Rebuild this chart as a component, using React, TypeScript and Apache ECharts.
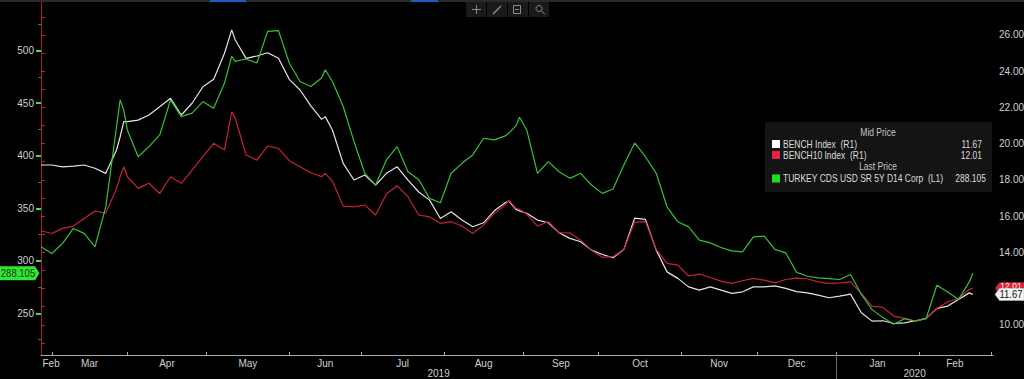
import React, { useEffect, useRef } from "react";
import * as echarts from "echarts";

// ---- Data (x = trading-day index, 0 = Tue 2019-02-26; weekends skipped as on the terminal) ----
const tradingDays = [
  0, 3, 6, 9, 12, 15, 18, 21, 22, 23, 24, 27, 30, 33, 36, 39, 42, 45, 48, 51,
  53, 54, 57, 60, 63, 66, 69, 72, 75, 78, 79, 81, 84, 87, 90, 93, 96, 99, 102, 105,
  108, 111, 114, 117, 120, 123, 126, 129, 130, 132, 133, 135, 138, 141, 144, 147, 150, 153, 156, 159,
  162, 165, 168, 171, 174, 177, 180, 183, 186, 189, 192, 195, 198, 201, 204, 207, 210, 213, 216, 219,
  222, 225, 228, 231, 234, 237, 240, 243, 246, 249, 252, 255, 258, 259,
];

const benchIndex = [
  18.82, 18.82, 18.72, 18.76, 18.82, 18.64, 18.36, 19.65, 20.38, 21.21, 21.21, 21.3, 21.58, 22.04, 22.5, 21.58, 22.23, 23.14, 23.55, 24.99,
  26.28, 25.72, 24.71, 24.84, 25.02, 24.71, 23.55, 22.96, 22.08, 21.34, 21.49, 20.75, 18.91, 17.99, 18.27, 17.71, 18.36, 18.72, 17.99, 17.33,
  16.88, 15.87, 16.24, 15.78, 15.41, 15.63, 16.29, 16.73, 16.83, 16.37, 16.29, 16.15, 15.78, 15.63, 15.08, 14.77, 14.58, 14.12, 13.88, 13.7,
  14.16, 15.89, 15.82, 14.12, 12.92, 12.56, 12.09, 11.91, 12.09, 11.91, 11.73, 11.82, 12.09, 12.09, 12.15, 12.01, 11.83, 11.76, 11.64, 11.49,
  11.58, 11.69, 10.66, 10.2, 10.22, 10.07, 10.1, 10.22, 10.35, 10.9, 11.03, 11.4, 11.76, 11.67,
];

const bench10Index = [
  15.19, 15.04, 15.32, 15.45, 15.87, 16.28, 16.15, 17.53, 18.17, 18.72, 18.17, 17.53, 17.81, 17.25, 18.17, 17.81, 18.54, 19.28, 20.02, 19.65,
  21.76, 21.41, 19.37, 19.09, 19.87, 19.74, 19.06, 18.72, 18.39, 18.17, 18.36, 17.93, 16.55, 16.51, 16.61, 16.06, 17.22, 17.67, 17.07, 16.06,
  15.96, 15.6, 15.69, 15.45, 15.04, 15.5, 16.15, 16.61, 16.88, 16.43, 16.37, 16.11, 15.45, 15.69, 15.08, 15.08, 14.67, 14.12, 13.72, 13.76,
  14.16, 15.67, 15.69, 14.16, 13.39, 13.29, 12.69, 12.8, 12.61, 12.41, 12.28, 12.43, 12.56, 12.46, 12.31, 12.5, 12.57, 12.54, 12.37, 12.28,
  12.31, 12.37, 11.73, 11.03, 10.96, 10.48, 10.35, 10.2, 10.35, 10.9, 11.27, 11.45, 11.95, 12.01,
];

const turkeyCds = [
  313.3, 307.0, 316.5, 330.8, 326.1, 313.3, 351.4, 427.8, 453.2, 443.7, 424.6, 399.1, 408.7, 419.8, 453.2, 437.3, 440.6, 451.6, 445.3, 469.2,
  494.6, 489.8, 492.1, 488.3, 518.4, 519.1, 488.3, 470.7, 465.9, 474.0, 481.9, 470.7, 446.9, 413.5, 383.3, 372.1, 396.0, 408.7, 384.8, 377.2,
  359.4, 355.2, 383.3, 392.8, 400.8, 416.7, 415.1, 418.9, 421.5, 428.4, 436.7, 424.6, 383.3, 394.4, 384.8, 378.5, 383.3, 372.1, 364.2, 368.3,
  391.2, 412.2, 399.1, 383.3, 351.4, 337.1, 332.3, 319.7, 317.1, 312.7, 309.4, 308.5, 322.8, 323.5, 310.8, 307.5, 289.1, 285.3, 283.7, 283.1,
  282.2, 286.9, 268.1, 253.5, 245.9, 239.5, 244.9, 242.4, 244.9, 276.7, 270.3, 263.1, 279.9, 288.105,
];

const seriesNames = ["BENCH Index  (R1)", "BENCH10 Index  (R1)", "TURKEY CDS USD SR 5Y D14 Corp  (L1)"];
const lastValueLabels = ["11.67", "12.01", "288.105"];
const legendHeaders = ["Mid Price", "Last Price"];
const leftTickValues = [250, 300, 350, 400, 450, 500];
const leftMinorTickValues = [225, 275, 325, 375, 425, 475, 525];
const rightTickValues = [10, 14, 16, 18, 20, 22, 24, 26]; // 12.00 sits under the last-value tags
const rightMinorTickValues = [9, 10, 11, 12, 13, 14, 15, 16, 17, 18, 19, 20, 21, 22, 23, 24, 25, 26, 27];
const monthNames = ["Jan", "Feb", "Mar", "Apr", "May", "Jun", "Jul", "Aug", "Sep", "Oct", "Nov", "Dec"];

// ---- Axis ranges ----
const X_MAX = 264.6;
const L_MIN = 210.3;
const L_MAX = 548.3;
const R_MIN = 8.33;
const R_MAX = 27.93;

const FONT = "'Liberation Sans', Arial, sans-serif";
const COL_WHITE = "#e4e4e4";
const COL_RED = "#c8213a";
const COL_GREEN = "#36c236";
const LABEL_COL = "#cfcfcf";

function buildCalendar(count: number) {
  const d = new Date(Date.UTC(2019, 1, 26));
  const days: Date[] = [];
  while (days.length < count) {
    const wd = d.getUTCDay();
    if (wd !== 0 && wd !== 6) days.push(new Date(d.getTime()));
    d.setUTCDate(d.getUTCDate() + 1);
  }
  return days;
}

export default function App() {
  const ref = useRef<HTMLDivElement>(null);

  useEffect(() => {
    if (!ref.current) return;
    const chart = echarts.init(ref.current, null, { renderer: "svg" });

    const cal = buildCalendar(280);
    const monthStarts: number[] = [];
    for (let i = 1; i < cal.length && i <= X_MAX; i++) {
      if (cal[i].getUTCMonth() !== cal[i - 1].getUTCMonth()) monthStarts.push(i);
    }
    const bounds = [0, ...monthStarts];
    const labelPos: number[] = [];
    const labelNames: string[] = [];
    for (let i = 0; i < bounds.length - 1; i++) {
      let mid = (bounds[i] + bounds[i + 1]) / 2;
      if (i === 0) mid = Math.max(mid, 2.8);
      labelPos.push(mid);
      labelNames.push(monthNames[cal[bounds[i]].getUTCMonth()]);
    }
    const jan2020 = monthStarts.find((i) => cal[i].getUTCFullYear() === 2020 && cal[i].getUTCMonth() === 0) as number;
    const yearPos = [jan2020 / 2, (jan2020 + X_MAX) / 2];
    const yearNames = ["2019", "2020"];

    const nearestName = (v: number, pos: number[], names: string[]) => {
      let best = 0;
      for (let i = 1; i < pos.length; i++) if (Math.abs(pos[i] - v) < Math.abs(pos[best] - v)) best = i;
      return names[best];
    };

    const option: any = {
      animation: false,
      backgroundColor: "#000000",
      textStyle: { fontFamily: FONT },
      grid: { left: 41, right: 31, top: 0, bottom: 24, containLabel: false, outerBoundsMode: "none" },
      xAxis: [
        {
          type: "value",
          min: 0,
          max: X_MAX,
          position: "bottom",
          axisLine: { show: true, lineStyle: { color: "#a9a9a9", width: 1 } },
          axisTick: { show: true, inside: true, length: 3, customValues: monthStarts, lineStyle: { color: "#a9a9a9" } },
          axisLabel: {
            customValues: labelPos,
            formatter: (v: number) => nearestName(v, labelPos, labelNames),
            color: LABEL_COL,
            fontSize: 10,
            margin: 3,
            fontFamily: FONT,
          },
          splitLine: { show: false },
        },
        {
          type: "value",
          min: 0,
          max: X_MAX,
          position: "bottom",
          axisLine: { show: false },
          axisTick: { show: true, length: 24, customValues: [jan2020], lineStyle: { color: "#6e6e6e" } },
          axisLabel: {
            customValues: yearPos,
            formatter: (v: number) => nearestName(v, yearPos, yearNames),
            color: LABEL_COL,
            fontSize: 10,
            margin: 13,
            fontFamily: FONT,
          },
          splitLine: { show: false },
        },
      ],
      yAxis: [
        {
          type: "value",
          position: "left",
          min: L_MIN,
          max: L_MAX,
          axisLine: { show: true, lineStyle: { color: "#3dcf3d", width: 1 } },
          axisTick: { show: true, length: 5, customValues: leftTickValues, lineStyle: { color: "#3fe43f", width: 2 } },
          axisLabel: { customValues: leftTickValues, color: LABEL_COL, fontSize: 10, margin: 7, fontFamily: FONT },
          splitLine: { show: false },
        },
        {
          type: "value",
          position: "right",
          min: R_MIN,
          max: R_MAX,
          axisLine: { show: true, lineStyle: { color: "#b0182f", width: 1 } },
          axisTick: { show: true, length: 4, customValues: rightMinorTickValues, lineStyle: { color: "#c81c36" } },
          axisLabel: {
            customValues: rightTickValues,
            formatter: (v: number) => v.toFixed(2),
            color: LABEL_COL,
            fontSize: 10,
            margin: 6,
            fontFamily: FONT,
          },
          splitLine: { show: false },
        },
        {
          type: "value",
          position: "left",
          min: L_MIN,
          max: L_MAX,
          axisLine: { show: false },
          axisTick: { show: true, length: 3, customValues: leftMinorTickValues, lineStyle: { color: "#2e8a2e" } },
          axisLabel: { show: false },
          splitLine: { show: false },
        },
      ],
      series: [
        {
          name: seriesNames[0],
          type: "line",
          xAxisIndex: 0,
          yAxisIndex: 1,
          data: tradingDays.map((d, i) => [d, benchIndex[i]]),
          showSymbol: false,
          symbol: "none",
          lineStyle: { color: COL_WHITE, width: 1.2 },
          itemStyle: { color: COL_WHITE },
          z: 2,
        },
        {
          name: seriesNames[1],
          type: "line",
          xAxisIndex: 0,
          yAxisIndex: 1,
          data: tradingDays.map((d, i) => [d, bench10Index[i]]),
          showSymbol: false,
          symbol: "none",
          lineStyle: { color: COL_RED, width: 1.2 },
          itemStyle: { color: COL_RED },
          z: 3,
        },
        {
          name: seriesNames[2],
          type: "line",
          xAxisIndex: 0,
          yAxisIndex: 0,
          data: tradingDays.map((d, i) => [d, turkeyCds[i]]),
          showSymbol: false,
          symbol: "none",
          lineStyle: { color: COL_GREEN, width: 1.2 },
          itemStyle: { color: COL_GREEN },
          z: 4,
        },
      ],
    };

    chart.setOption(option);

    const lastIdx = tradingDays.length - 1;
    const yG = chart.convertToPixel({ yAxisIndex: 0 } as any, turkeyCds[lastIdx]) as number;
    const yW = chart.convertToPixel({ yAxisIndex: 1 } as any, benchIndex[lastIdx]) as number;
    const yR = chart.convertToPixel({ yAxisIndex: 1 } as any, bench10Index[lastIdx]) as number;

    // narrow text (terminal font is condensed): scale horizontally around its anchor
    const txt = (text: string, x: number, y: number, fill: string, align = "left", size = 10, sx = 0.85) => ({
      type: "text",
      z: 100,
      silent: true,
      x,
      y,
      scaleX: sx,
      style: { text, x: 0, y: 0, fill, align, verticalAlign: "middle", font: `${size}px ${FONT}` },
    });
    const iconStroke = { stroke: "#8a8a8a", lineWidth: 1, fill: "none" };

    const graphics: any[] = [
      // terminal top strip
      { type: "rect", z: 100, silent: true, shape: { x: 0, y: 0, width: 1024, height: 2 }, style: { fill: "#2a2a2a" } },
      { type: "rect", z: 101, silent: true, shape: { x: 210, y: 0, width: 36, height: 2 }, style: { fill: "#1d5cc4" } },
      { type: "rect", z: 101, silent: true, shape: { x: 411, y: 0, width: 27, height: 2 }, style: { fill: "#1d5cc4" } },
      // toolbar
      ...[0, 1, 2, 3].map((i) => ({
        type: "rect",
        z: 100,
        silent: true,
        shape: { x: 466 + 21 * i, y: 2, width: 20, height: 15 },
        style: { fill: "#1a1a1a" },
      })),
      { type: "line", z: 101, silent: true, shape: { x1: 476.5, y1: 5, x2: 476.5, y2: 14 }, style: iconStroke },
      { type: "line", z: 101, silent: true, shape: { x1: 472, y1: 9.5, x2: 481, y2: 9.5 }, style: iconStroke },
      { type: "line", z: 101, silent: true, shape: { x1: 493, y1: 14, x2: 501, y2: 6 }, style: { ...iconStroke, lineWidth: 1.5 } },
      { type: "rect", z: 101, silent: true, shape: { x: 513.5, y: 5.5, width: 7, height: 8 }, style: iconStroke },
      { type: "line", z: 101, silent: true, shape: { x1: 515, y1: 9.5, x2: 519, y2: 9.5 }, style: iconStroke },
      { type: "circle", z: 101, silent: true, shape: { cx: 539, cy: 8.5, r: 3 }, style: iconStroke },
      { type: "line", z: 101, silent: true, shape: { x1: 541, y1: 10.5, x2: 545, y2: 14.5 }, style: iconStroke },
      // legend panel
      { type: "rect", z: 100, silent: true, shape: { x: 765, y: 122, width: 227, height: 70 }, style: { fill: "#141414" } },
      txt(legendHeaders[0], 878, 133, "#c6c6c6", "center"),
      { type: "rect", z: 101, silent: true, shape: { x: 772, y: 140, width: 8, height: 8 }, style: { fill: "#ffffff" } },
      txt(seriesNames[0], 783, 144.5, "#dcdcdc"),
      txt(lastValueLabels[0], 982, 144.5, "#dcdcdc", "right"),
      { type: "rect", z: 101, silent: true, shape: { x: 772, y: 151, width: 8, height: 8 }, style: { fill: "#e8233f" } },
      txt(seriesNames[1], 783, 155.5, "#dcdcdc"),
      txt(lastValueLabels[1], 982, 155.5, "#dcdcdc", "right"),
      txt(legendHeaders[1], 878, 167, "#c6c6c6", "center"),
      { type: "rect", z: 101, silent: true, shape: { x: 772, y: 174.5, width: 8, height: 8 }, style: { fill: "#1fe01f" } },
      txt(seriesNames[2], 783, 178.5, "#dcdcdc"),
      txt(lastValueLabels[2], 986, 178.5, "#dcdcdc", "right"),
      // last-value tag, left axis
      {
        type: "polygon",
        z: 110,
        silent: true,
        shape: { points: [[0, yG - 7], [35, yG - 7], [39.5, yG], [35, yG + 7], [0, yG + 7]] },
        style: { fill: "#33e633" },
      },
      { ...txt(lastValueLabels[2], 18, yG, "#0a3a0a", "center", 10, 0.95), z: 111 },
      // last-value tags, right axis
      {
        type: "polygon",
        z: 110,
        silent: true,
        shape: { points: [[995, yR], [999.5, yR - 6], [1024, yR - 6], [1024, yR + 6], [999.5, yR + 6]] },
        style: { fill: "#e0203a" },
      },
      { ...txt(lastValueLabels[1], 1011, yR - 2, "#ffffff", "center", 9, 0.95), z: 111 },
      {
        type: "polygon",
        z: 112,
        silent: true,
        shape: { points: [[995, yW], [999.5, yW - 6], [1024, yW - 6], [1024, yW + 6], [999.5, yW + 6]] },
        style: { fill: "#f4f4f4", stroke: "#bdbdbd", lineWidth: 0.5 },
      },
      { ...txt(lastValueLabels[0], 1011, yW, "#111111", "center", 10, 0.95), z: 113 },
    ];

    chart.setOption({ graphic: graphics });

    return () => {
      chart.dispose();
    };
  }, []);

  return (
    <div
      ref={ref}
      style={{ position: "fixed", left: 0, top: 0, width: 1024, height: 379, background: "#000" }}
    />
  );
}
